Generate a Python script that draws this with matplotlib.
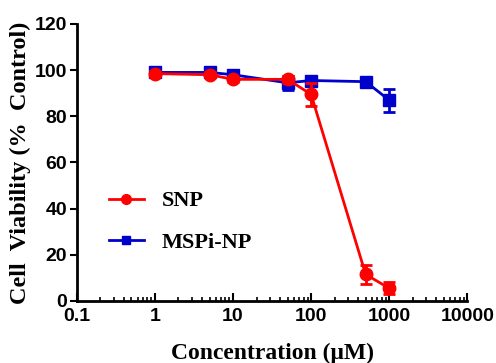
import numpy as np
import matplotlib
matplotlib.use('Agg')
import matplotlib.pyplot as plt
import matplotlib.ticker as mticker
from matplotlib.lines import Line2D

conc = [1, 5, 10, 50, 100, 500, 1000]
snp = [98.5, 98, 96, 96, 89.5, 11.5, 5.5]
snp_err = [1, 1, 1, 1.5, 5, 4, 2.5]
mspi = [99, 99, 98, 94.5, 95.5, 95, 87]
mspi_err = [1, 1, 1, 3, 1, 1, 5]

sans = ['Liberation Sans', 'DejaVu Sans']
serif = ['Liberation Serif', 'DejaVu Serif']
red = '#ff0000'
blue = '#0000cc'

fig = plt.figure(figsize=(4.96, 3.63), dpi=100)
ax = fig.add_axes([0.155, 0.171, 0.787, 0.763])

ax.errorbar(conc, snp, yerr=snp_err, color=red, marker='o', markersize=9,
            linewidth=2, elinewidth=2, capsize=4, capthick=2, zorder=3)
ax.errorbar(conc, mspi, yerr=mspi_err, color=blue, marker='s', markersize=8,
            linewidth=2, elinewidth=2, capsize=4, capthick=2, zorder=2)

ax.set_xscale('log')
ax.set_xlim(0.1, 10000)
ax.set_ylim(0, 120)
ax.set_yticks([0, 20, 40, 60, 80, 100, 120])
ax.xaxis.set_major_locator(mticker.LogLocator(base=10, numticks=10))
ax.xaxis.set_minor_locator(mticker.LogLocator(base=10, subs=np.arange(2, 10), numticks=10))
ax.xaxis.set_major_formatter(mticker.FuncFormatter(lambda v, p: f'{v:g}'))

for s in ['top', 'right']:
    ax.spines[s].set_visible(False)
for s in ['left', 'bottom']:
    ax.spines[s].set_linewidth(2)

ax.tick_params(axis='x', which='major', direction='in', length=6, width=1.5, pad=5)
ax.tick_params(axis='x', which='minor', direction='in', length=3, width=1.2)
ax.tick_params(axis='y', which='major', direction='out', length=5, width=1.5, pad=2)

for lab in ax.get_xticklabels() + ax.get_yticklabels():
    lab.set_family(sans)
    lab.set_fontweight('bold')
    lab.set_fontsize(14)

ax.set_xlabel('Concentration (\u03bcM)', family=serif, fontweight='bold', fontsize=17, labelpad=13)
ax.set_ylabel('Cell  Viability (%  Control)', family=serif, fontweight='bold', fontsize=17.5, labelpad=3)

handles = [Line2D([], [], color=red, marker='o', markersize=7, linewidth=2),
           Line2D([], [], color=blue, marker='s', markersize=6, linewidth=2)]
ax.legend(handles, ['SNP', 'MSPi-NP'], loc='center left', bbox_to_anchor=(0.03, 0.285),
          frameon=False, prop={'family': serif, 'weight': 'bold', 'size': 16},
          handlelength=1.6, handletextpad=0.8, labelspacing=0.95)

fig.savefig('out.png', dpi=100)
